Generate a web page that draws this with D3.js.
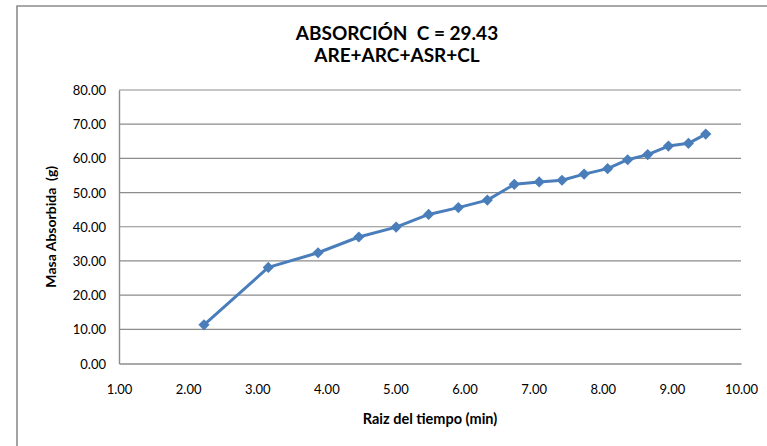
<!DOCTYPE html>
<html>
<head>
<meta charset="utf-8">
<script src="https://cdn.jsdelivr.net/npm/d3@7"></script>
<style>
  html, body { margin: 0; padding: 0; background: #fff; }
  svg { display: block; }
  text { font-family: Lato, "Open Sans", "Liberation Sans", sans-serif; fill: #000; white-space: pre; }
</style>
</head>
<body>
<svg id="chart" width="767" height="446"></svg>
<script>
// Square root of elapsed time (min) and absorbed mass (g)
const raizTiempo = [2.23, 3.16, 3.88, 4.47, 5.01, 5.48, 5.91, 6.33, 6.72, 7.08, 7.41, 7.73, 8.07, 8.36, 8.65, 8.95, 9.24, 9.49];
const masaAbsorbida = [11.3, 28.1, 32.4, 37.0, 39.9, 43.6, 45.6, 47.8, 52.4, 53.1, 53.6, 55.4, 57.0, 59.6, 61.1, 63.6, 64.4, 67.1];
const xTicks = [1, 2, 3, 4, 5, 6, 7, 8, 9, 10];
const yTicks = [0, 10, 20, 30, 40, 50, 60, 70, 80];
const titleLines = ["ABSORCIÓN  C = 29.43", "ARE+ARC+ASR+CL"];
const xTitle = "Raiz del tiempo (min)";
const yTitle = "Masa Absorbida  (g)";

const svg = d3.select("#chart");
const plot = { left: 119, right: 741, top: 90, bottom: 363.5 };

// Outer chart frame (extends beyond the right and bottom edges)
svg.append("path")
  .attr("d", `M17,460 L17,6 L780,6`)
  .attr("fill", "none")
  .attr("stroke", "#8c8c8c")
  .attr("stroke-width", 1.6);

const x = d3.scaleLinear().domain([1, 10]).range([plot.left, plot.right]);
const y = d3.scaleLinear().domain([0, 80]).range([plot.bottom, plot.top]);

// Horizontal gridlines
svg.append("g")
  .selectAll("line")
  .data(yTicks.filter(d => d > 0))
  .join("line")
  .attr("x1", plot.left).attr("x2", plot.right)
  .attr("y1", d => y(d)).attr("y2", d => y(d))
  .attr("stroke", "#8c8c8c").attr("stroke-width", 1.2);

// Axes
const yAxis = svg.append("g")
  .attr("transform", `translate(${plot.left},0)`)
  .call(d3.axisLeft(y).tickValues(yTicks).tickFormat(d3.format(".2f")).tickSize(0).tickPadding(13));
yAxis.select(".domain").attr("stroke", "#8c8c8c").attr("stroke-width", 1.4);
yAxis.selectAll("text").attr("font-size", 13).attr("dy", "0.35em").style("font-family", "Lato, sans-serif");

const xAxis = svg.append("g")
  .attr("transform", `translate(0,${plot.bottom})`)
  .call(d3.axisBottom(x).tickValues(xTicks).tickFormat(d3.format(".2f")).tickSize(0).tickPadding(21));
xAxis.select(".domain").attr("stroke", "#8c8c8c").attr("stroke-width", 1.4);
xAxis.selectAll("text").attr("font-size", 13).style("font-family", "Lato, sans-serif");

// Data series
const pts = raizTiempo.map((v, i) => [v, masaAbsorbida[i]]);
svg.append("path")
  .datum(pts)
  .attr("fill", "none")
  .attr("stroke", "#4a7ebb")
  .attr("stroke-width", 3)
  .attr("stroke-linejoin", "round")
  .attr("d", d3.line().x(d => x(d[0])).y(d => y(d[1])));

svg.append("g")
  .selectAll("path")
  .data(pts)
  .join("path")
  .attr("transform", d => `translate(${x(d[0])},${y(d[1])})`)
  .attr("d", d3.symbol(d3.symbolDiamond2, 80)())
  .attr("fill", "#4a7ebb");

// Titles
svg.append("g")
  .selectAll("text")
  .data(titleLines)
  .join("text")
  .attr("x", 397)
  .attr("y", (d, i) => 40 + i * 22)
  .attr("text-anchor", "middle")
  .attr("font-size", 19)
  .attr("font-weight", "bold")
  .text(d => d);

svg.append("text")
  .attr("x", 430).attr("y", 424)
  .attr("text-anchor", "middle")
  .attr("font-size", 14.5)
  .attr("font-weight", "bold")
  .text(xTitle);

svg.append("text")
  .attr("transform", `translate(56,${(plot.top + plot.bottom) / 2}) rotate(-90)`)
  .attr("text-anchor", "middle")
  .attr("font-size", 14)
  .attr("font-weight", "bold")
  .text(yTitle);
</script>
</body>
</html>
